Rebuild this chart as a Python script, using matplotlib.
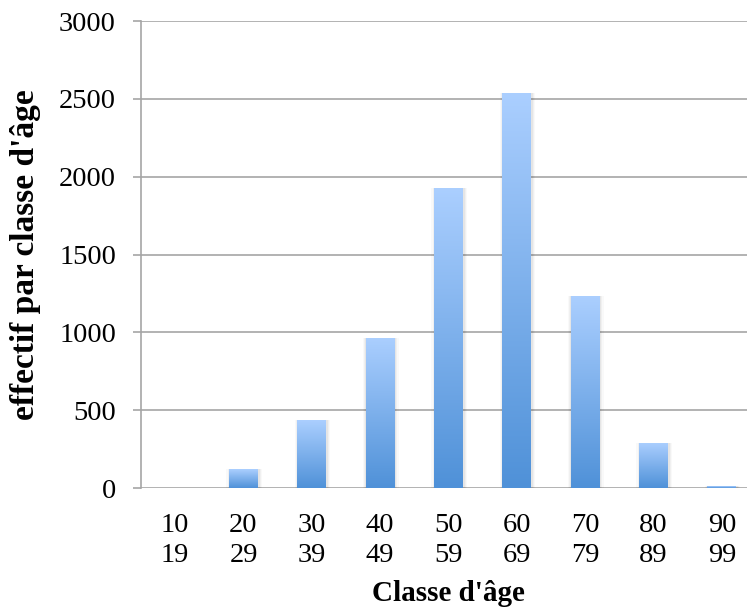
import numpy as np
import matplotlib
matplotlib.use("Agg")
import matplotlib.pyplot as plt
from matplotlib.colors import LinearSegmentedColormap

# classes d'age et effectifs
classes = ["10\n19", "20\n29", "30\n39", "40\n49", "50\n59",
           "60\n69", "70\n79", "80\n89", "90\n99"]
effectifs = [1, 122, 436, 966, 1930, 2540, 1234, 290, 10]

plt.rcParams['font.family'] = ['Liberation Serif', 'DejaVu Serif']

fig = plt.figure(figsize=(7.47, 6.09), dpi=100)
W, H = 747, 609
ax = fig.add_axes([141 / W, 1 - 488 / H, 615 / W, (488 - 21) / H])

x = np.arange(len(classes))
bars = ax.bar(x, effectifs, width=0.42, color='none', edgecolor='none', zorder=3)

cmap = LinearSegmentedColormap.from_list('bleu', ['#4F91D8', '#ABCFFF'])
grad = np.linspace(0, 1, 256).reshape(-1, 1)
for b in bars:
    x0, w, h = b.get_x(), b.get_width(), b.get_height()
    # ombre douce sur les cotes des barres
    for k, a in [(0.05, 0.025), (0.03, 0.035), (0.015, 0.045)]:
        ax.bar(x0 + w / 2 + 0.01, h, width=w + 2 * k, color='#000000',
               alpha=a, edgecolor='none', zorder=2)
    im = ax.imshow(grad, cmap=cmap, aspect='auto', origin='lower',
                   extent=[x0, x0 + w, 0, max(h, 1)], zorder=3)
    im.set_clip_path(b)

ax.set_xlim(-0.5, len(classes) - 0.5)
ax.set_ylim(0, 3000)
ax.set_yticks(np.arange(0, 3001, 500))
ax.set_xticks(x)
ax.set_xticklabels(classes, linespacing=1.25)

ax.grid(axis='y', color='#A5A5A5', linewidth=1.2, zorder=1)
ax.set_axisbelow(True)
for s in ['top', 'right', 'bottom']:
    ax.spines[s].set_visible(False)
ax.spines['left'].set_color('#A5A5A5')
ax.spines['left'].set_linewidth(1.2)

ax.tick_params(axis='y', length=6, color='#A5A5A5', width=1.2, pad=12, labelsize=20.5)
ax.tick_params(axis='x', length=0, pad=18, labelsize=20.5)

ax.set_xlabel("Classe d'âge", fontsize=21, fontweight='bold', labelpad=9)
ax.set_ylabel("effectif par classe d'âge", fontsize=24, fontweight='bold', labelpad=13)

fig.savefig("out.png", dpi=100)
